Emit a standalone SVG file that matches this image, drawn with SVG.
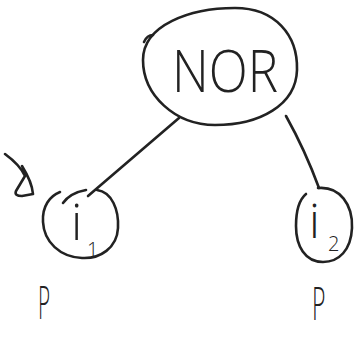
<svg xmlns="http://www.w3.org/2000/svg" width="358" height="338" viewBox="0 0 358 338">
  <style>
    .ink { fill: none; stroke: #222; stroke-width: 2.6; stroke-linecap: round; stroke-linejoin: round; }
    .lbl { font-family: "Open Sans", "Liberation Sans", sans-serif; font-weight: 300; fill: #222; }
  </style>
  <rect width="358" height="338" fill="#fff"/>

  <!-- connectors -->
  <g id="connectors">
    <path class="ink" d="M179,118 L88,196"/>
    <path class="ink" d="M286,116 Q305,150 319,188"/>
  </g>

  <!-- root gate -->
  <g id="node-nor">
    <path class="ink" d="M143,60 C143,25 190,8 235,8 C275,8 298,35 297,70 C296,105 260,125 215,125 C175,125 143,95 143,60 Z"/>
    <path class="ink" d="M144,42 Q147,35 153,35"/>
    <text class="lbl" x="172" y="92" font-size="58" textLength="106" lengthAdjust="spacingAndGlyphs">NOR</text>
  </g>

  <!-- first input -->
  <g id="node-i1">
    <path class="ink" d="M97,190 C112,192 119,210 118,228 C117,248 100,259 82,258 C60,257 44,242 43,222 C42,206 50,196 60,192"/>
    <path class="ink" d="M63,203 Q70,193 86,190"/>
    <text class="lbl" x="71" y="240" font-size="50">i</text>
    <text class="lbl" x="87" y="257" font-size="20">1</text>
  </g>

  <!-- second input -->
  <g id="node-i2">
    <path class="ink" d="M318,188 C340,186 353,205 352,228 C351,250 339,262 323,262 C305,262 296,246 296,226 C296,210 300,199 306,194"/>
    <text class="lbl" x="309" y="238" font-size="48">i</text>
    <text class="lbl" x="328" y="251" font-size="20">2</text>
  </g>

  <!-- side mark -->
  <g id="mark">
    <path class="ink" d="M5,154 Q20,165 25,176 L16,191 Q14,196 22,196 L33,194 Q32,182 22,166"/>
  </g>

  <g id="label-p1">
    <text class="lbl" x="0" y="0" font-size="46" transform="translate(38,319) scale(0.45,1)">P</text>
  </g>
  <g id="label-p2">
    <text class="lbl" x="0" y="0" font-size="46" transform="translate(312,320) scale(0.5,1)">P</text>
  </g>
</svg>
